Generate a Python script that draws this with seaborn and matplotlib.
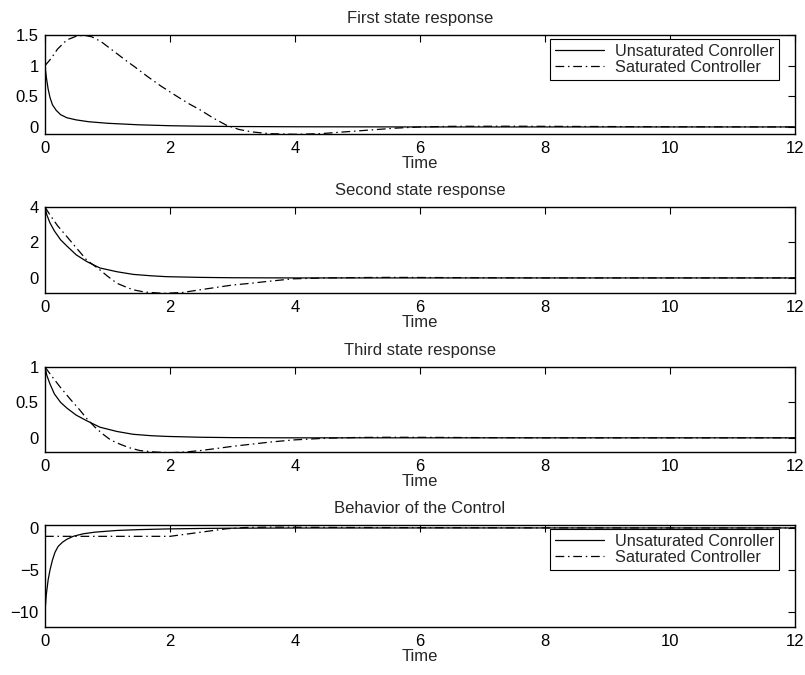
import matplotlib
matplotlib.use("Agg")
import matplotlib.pyplot as plt
import seaborn as sns

# ---------------- data ----------------
titles = ["First state response", "Second state response",
          "Third state response", "Behavior of the Control"]
labels = ["Unsaturated Conroller", "Saturated Controller"]
x_ticks = [0, 2, 4, 6, 8, 10, 12]

# First state
t1u = [0, 0.02, 0.05, 0.08, 0.12, 0.18, 0.25, 0.35, 0.5, 0.7, 1.0, 1.5, 2.0, 2.5, 3.0, 4.0, 6.0, 12.0]
x1u = [1.0, 0.82, 0.62, 0.48, 0.36, 0.27, 0.2, 0.15, 0.115, 0.085, 0.06, 0.035, 0.02, 0.012, 0.007, 0.003, 0.0, 0.0]
t1s = [0, 0.1, 0.2, 0.35, 0.5, 0.62, 0.75, 0.9, 1.12, 1.3, 1.45, 1.63, 1.85, 2.11, 2.3, 2.48,
       2.7, 2.9, 3.1, 3.3, 3.6, 4.0, 4.4, 4.8, 5.2, 5.6, 6.0, 6.5, 7.5, 8.5, 10.0, 12.0]
x1s = [1.0, 1.12, 1.27, 1.42, 1.48, 1.497, 1.47, 1.39, 1.22, 1.08, 0.97, 0.83, 0.67, 0.5, 0.38, 0.28,
       0.14, 0.03, -0.04, -0.08, -0.11, -0.12, -0.11, -0.08, -0.05, -0.02, 0.0, 0.01, 0.012, 0.008, 0.003, 0.0]

# Second state
t2u = [0, 0.03, 0.08, 0.15, 0.25, 0.35, 0.5, 0.67, 0.88, 1.15, 1.41, 1.7, 1.95, 2.5, 3.0, 4.0, 12.0]
x2u = [4.0, 3.55, 3.1, 2.65, 2.15, 1.8, 1.3, 0.92, 0.56, 0.35, 0.2, 0.12, 0.07, 0.03, 0.01, 0.0, 0.0]
t2s = [0, 0.08, 0.2, 0.35, 0.5, 0.67, 0.88, 1.0, 1.15, 1.3, 1.41, 1.6, 1.9, 2.2, 2.48, 2.75,
       3.0, 3.3, 3.55, 3.97, 4.5, 5.0, 5.5, 6.0, 7.0, 8.0, 12.0]
x2s = [4.0, 3.55, 2.95, 2.33, 1.7, 1.0, 0.45, 0.1, -0.3, -0.52, -0.67, -0.8, -0.87, -0.82, -0.67, -0.53,
       -0.4, -0.3, -0.2, -0.05, 0.0, 0.02, 0.03, 0.025, 0.01, 0.0, 0.0]

# Third state
t3u = [0, 0.03, 0.08, 0.15, 0.25, 0.35, 0.5, 0.67, 0.88, 1.15, 1.41, 1.7, 1.95, 2.5, 3.0, 4.0, 12.0]
x3u = [1.0, 0.88, 0.76, 0.62, 0.5, 0.42, 0.32, 0.24, 0.15, 0.09, 0.05, 0.03, 0.02, 0.008, 0.003, 0.0, 0.0]
t3s = [0, 0.1, 0.24, 0.4, 0.55, 0.67, 0.8, 0.93, 1.05, 1.2, 1.35, 1.52, 1.75, 2.0, 2.25, 2.48,
       2.75, 3.0, 3.3, 3.6, 3.97, 4.5, 5.0, 5.5, 6.0, 7.0, 8.0, 12.0]
x3s = [1.0, 0.88, 0.72, 0.55, 0.4, 0.27, 0.15, 0.05, -0.03, -0.09, -0.14, -0.18, -0.2, -0.21, -0.2, -0.18,
       -0.15, -0.12, -0.09, -0.06, -0.03, -0.005, 0.005, 0.008, 0.007, 0.003, 0.0, 0.0]

# Control
t4u = [0, 0.02, 0.05, 0.08, 0.12, 0.16, 0.21, 0.28, 0.35, 0.45, 0.61, 0.8, 1.15, 1.5, 1.95, 2.5, 3.0, 4.0, 6.0, 12.0]
u4u = [-10.0, -8.0, -6.2, -5.0, -3.8, -2.9, -2.2, -1.7, -1.35, -1.0, -0.7, -0.5, -0.3, -0.2, -0.12, -0.06, -0.03, -0.01, 0.0, 0.0]
t4s = [0, 2.0, 2.3, 2.6, 2.9, 3.2, 3.6, 4.0, 5.0, 6.0, 7.0, 8.0, 10.0, 12.0]
u4s = [-1.0, -1.0, -0.7, -0.4, -0.1, 0.05, 0.1, 0.08, 0.05, 0.03, 0.02, 0.01, 0.0, 0.0]

series = [(t1u, x1u, t1s, x1s), (t2u, x2u, t2s, x2s), (t3u, x3u, t3s, x3s), (t4u, u4u, t4s, u4s)]
y_ticks = [[0, 0.5, 1, 1.5], [0, 2, 4], [0, 0.5, 1], [-10, -5, 0]]
y_ticklabels = [["0", "0.5", "1", "1.5"], ["0", "2", "4"], ["0", "0.5", "1"], ["\u221210", "\u22125", "0"]]
y_lims = [(-0.115, 1.5), (-0.85, 4.0), (-0.2, 1.0), (-11.8, 0.35)]
show_legend = [True, False, False, True]

# ---------------- style ----------------
sns.set_style("white")
plt.rcParams["font.family"] = ["Liberation Sans", "DejaVu Sans"]
plt.rcParams["axes.linewidth"] = 1.0

fig = plt.figure(figsize=(8.05, 6.75), dpi=100)
W, H = 805, 675
boxes = [(35, 134), (207, 293), (367, 452), (525, 627)]
left_px, right_px = 45, 795
FS = 12

for i, (top, bot) in enumerate(boxes):
    ax = fig.add_axes([left_px / W, 1 - bot / H, (right_px - left_px) / W, (bot - top) / H])
    tu, yu, ts, ys = series[i]
    sns.lineplot(x=tu, y=yu, ax=ax, color="black", lw=0.9, label=labels[0], sort=False)
    sns.lineplot(x=ts, y=ys, ax=ax, color="black", lw=0.9, label=labels[1], sort=False,
                 linestyle=(0, (7, 3, 1.2, 3)))
    ax.set_xlim(0, 12)
    ax.set_ylim(*y_lims[i])
    ax.set_xticks(x_ticks)
    ax.set_xticklabels([str(v) for v in x_ticks])
    ax.set_yticks(y_ticks[i])
    ax.set_yticklabels(y_ticklabels[i])
    ax.tick_params(direction="in", top=True, right=True, length=5, width=0.8,
                   labelsize=FS, colors="black")
    ax.tick_params(axis="x", pad=5)
    ax.tick_params(axis="y", pad=4.5)
    for sp in ax.spines.values():
        sp.set_color("black")
        sp.set_linewidth(1.0)
    ax.set_title(titles[i], fontsize=FS, pad=8.6)
    ax.set_xlabel("Time", fontsize=FS, labelpad=0)
    ax.set_ylabel("")
    if show_legend[i]:
        h = bot - top
        leg = ax.legend(loc="upper right", bbox_to_anchor=((779 - left_px) / 750, 1 - 4 / h),
                        borderaxespad=0, frameon=True, fancybox=False, framealpha=1,
                        edgecolor="black", fontsize=11.7, handlelength=3.0,
                        labelspacing=0.05, borderpad=0.3, handletextpad=0.68)
        leg.get_frame().set_linewidth(0.8)
    else:
        lg = ax.get_legend()
        if lg is not None:
            lg.remove()

fig.savefig("out.png", dpi=100)
